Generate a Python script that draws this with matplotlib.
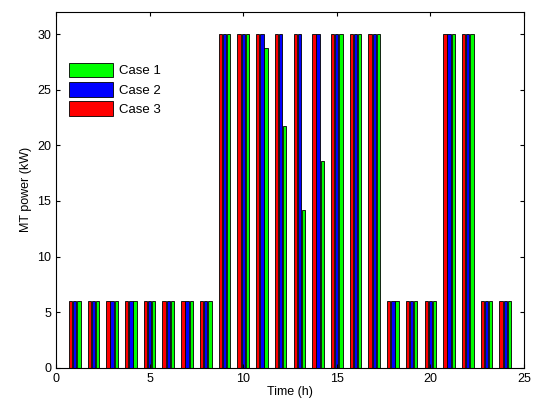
import numpy as np
import matplotlib.pyplot as plt

plt.rcParams['font.family'] = ['Liberation Sans', 'DejaVu Sans']

hours = np.arange(1, 25)
case1 = [6, 6, 6, 6, 6, 6, 6, 6, 30, 30, 28.8, 21.7, 14.2, 18.6, 30, 30, 30, 6, 6, 6, 30, 30, 6, 6]
case2 = [6, 6, 6, 6, 6, 6, 6, 6, 30, 30, 30, 30, 30, 30, 30, 30, 30, 6, 6, 6, 30, 30, 6, 6]
case3 = [6, 6, 6, 6, 6, 6, 6, 6, 30, 30, 30, 30, 30, 30, 30, 30, 30, 6, 6, 6, 30, 30, 6, 6]

fig = plt.figure(figsize=(5.36, 4.08), dpi=100)
ax = fig.add_axes([0.1045, 0.0988, 0.873, 0.8718])

# grouped bars like matlab: red, blue, green from left to right
off = 0.222
w = 0.178
ax.bar(hours + off, case1, w, color='#00ff00', edgecolor='k', linewidth=0.6, label='Case 1')
ax.bar(hours, case2, w, color='#0000ff', edgecolor='k', linewidth=0.6, label='Case 2')
ax.bar(hours - off, case3, w, color='#ff0000', edgecolor='k', linewidth=0.6, label='Case 3')

ax.set_xlim(0, 25)
ax.set_ylim(0, 32)
ax.set_xticks(np.arange(0, 26, 5))
ax.set_yticks(np.arange(0, 31, 5))
ax.tick_params(direction='in', top=True, right=True, labelsize=9, length=3)
ax.set_xlabel('Time (h)', fontsize=9, labelpad=1)
ax.set_ylabel('MT power (kW)', fontsize=9, labelpad=4)

ax.legend(loc='upper left', bbox_to_anchor=(0.0, 0.895), frameon=False, fontsize=9.5,
          handlelength=3.3, handleheight=1.35, labelspacing=0.35, borderaxespad=0.6,
          handletextpad=0.5)

fig.savefig('out.png', dpi=100)
